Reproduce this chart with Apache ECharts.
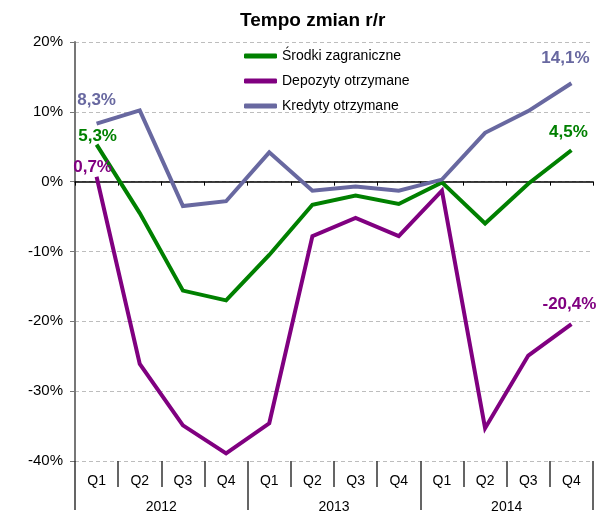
<!DOCTYPE html>
<html>
<head>
<meta charset="utf-8">
<script src="https://cdn.jsdelivr.net/npm/echarts@6/dist/echarts.min.js"></script>
<style>
html,body{margin:0;padding:0;background:#fff;}
#chart{width:598px;height:514px;}
</style>
</head>
<body>
<div id="chart"></div>
<script>
var quarters = ['Q1','Q2','Q3','Q4','Q1','Q2','Q3','Q4','Q1','Q2','Q3','Q4'];
var years = ['2012','2013','2014'];
var yTicks = [-40, -30, -20, -10, 0, 10, 20];
var seriesNames = ['Środki zagraniczne', 'Depozyty otrzymane', 'Kredyty otrzymane'];
var srodki = [5.3, -4.5, -15.6, -17.0, -10.5, -3.3, -2.0, -3.2, -0.1, -6.0, -0.3, 4.5];
var depozyty = [0.7, -26.1, -34.9, -38.9, -34.6, -7.8, -5.2, -7.8, -1.3, -35.3, -24.9, -20.4];
var kredyty = [8.3, 10.2, -3.5, -2.8, 4.2, -1.3, -0.7, -1.3, 0.3, 7.0, 10.1, 14.1];

var colors = ['#008000', '#800080', '#6868A0'];
var FONT = '"Liberation Sans", Arial, sans-serif';

// label placements (style only): index -> offset
var labelOffsets = [
  {0: [1, -8], 11: [-3, -18]},
  {0: [-4, -9], 11: [-2, -20]},
  {0: [0, -23], 11: [-6, -25]}
];

function fmt(v){ return v.toFixed(1).replace('.', ',') + '%'; }

function buildData(values, si){
  return values.map(function(v, i){
    var off = labelOffsets[si][i];
    if (!off) return v;
    return {
      value: v,
      label: {
        show: true,
        position: 'inside',
        offset: off,
        formatter: function(p){ return fmt(p.value); },
        color: colors[si],
        fontFamily: FONT,
        fontSize: 17,
        fontWeight: 'bold'
      }
    };
  });
}

var allValues = [srodki, depozyty, kredyty];
var series = allValues.map(function(vals, si){
  return {
    name: seriesNames[si],
    type: 'line',
    xAxisIndex: 0,
    yAxisIndex: 0,
    data: buildData(vals, si),
    symbol: 'circle',
    symbolSize: 0.1,
    showSymbol: true,
    itemStyle: {color: colors[si]},
    lineStyle: {color: colors[si], width: 4, join: 'miter'},
    label: {show: false},
    emphasis: {disabled: true},
    animation: false,
    z: 3 + si
  };
});

var chart = echarts.init(document.getElementById('chart'), null, {renderer: 'canvas'});
chart.setOption({
  animation: false,
  backgroundColor: '#ffffff',
  title: {
    text: 'Tempo zmian r/r',
    left: 240,
    top: 11,
    padding: 0,
    textStyle: {fontFamily: FONT, fontSize: 19, fontWeight: 'bold', color: '#000'}
  },
  legend: {
    orient: 'vertical',
    left: 244,
    top: 49,
    padding: 0,
    itemWidth: 33,
    itemHeight: 5,
    itemGap: 11,
    icon: 'roundRect',
    data: seriesNames,
    textStyle: {fontFamily: FONT, fontSize: 14, color: '#000'},
    selectedMode: false
  },
  grid: {left: 75, right: 5, top: 42, bottom: 49, containLabel: false},
  xAxis: [
    {
      type: 'category',
      data: quarters,
      boundaryGap: true,
      axisLine: {show: true, onZero: true, lineStyle: {color: '#000', width: 1.5}},
      axisTick: {show: true, length: 4, lineStyle: {color: '#000'}},
      axisLabel: {show: false},
      splitLine: {show: false},
      z: 2
    },
    {
      type: 'category',
      data: quarters,
      position: 'bottom',
      boundaryGap: true,
      axisLine: {show: false, onZero: false},
      axisTick: {show: true, length: 26, lineStyle: {color: '#333', width: 1.5}},
      axisLabel: {show: true, margin: 13, fontFamily: FONT, fontSize: 14, color: '#000'},
      splitLine: {show: false}
    },
    {
      type: 'category',
      data: years,
      position: 'bottom',
      boundaryGap: true,
      axisLine: {show: false, onZero: false},
      axisTick: {show: true, length: 49, lineStyle: {color: '#333', width: 1.5}},
      axisLabel: {show: true, margin: 39, fontFamily: FONT, fontSize: 14, color: '#000'},
      splitLine: {show: false}
    }
  ],
  yAxis: [{
    type: 'value',
    min: yTicks[0],
    max: yTicks[yTicks.length - 1],
    interval: 10,
    axisLine: {show: true, lineStyle: {color: '#777', width: 2}},
    axisTick: {show: true, length: 5, lineStyle: {color: '#777'}},
    axisLabel: {
      margin: 12,
      fontFamily: FONT,
      fontSize: 15,
      color: '#000',
      formatter: function(v){ return v + '%'; }
    },
    splitLine: {show: true, lineStyle: {color: '#BDBDBD', type: [4, 3], width: 1}}
  }],
  series: series
});
</script>
</body>
</html>
